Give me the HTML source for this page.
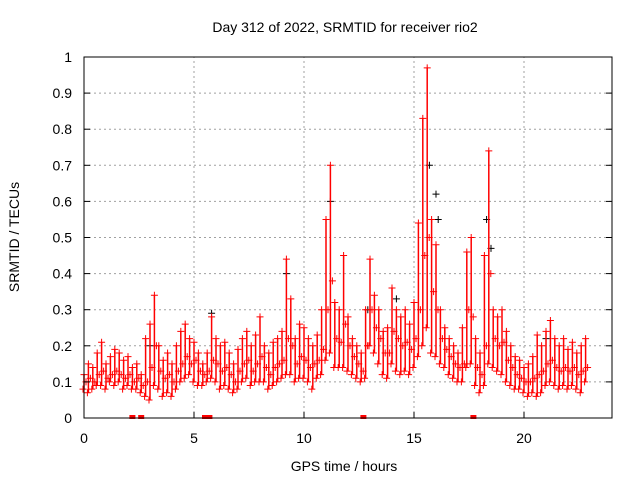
<!DOCTYPE html>
<html><head><meta charset="utf-8"><style>
body{margin:0;background:#fff;font-family:"Liberation Sans",sans-serif;}
svg text{font-family:"Liberation Sans",sans-serif;fill:#000;}
</style></head><body>
<svg id="chart" width="640" height="480" viewBox="0 0 640 480">
<rect width="640" height="480" fill="#fff"/>
<g id="grid"></g><g id="marks"></g><g id="axes"></g>
<text x="345" y="32" font-size="14" text-anchor="middle">Day 312 of 2022, SRMTID for receiver rio2</text>
<text x="344" y="471" font-size="14" text-anchor="middle">GPS time / hours</text>
<text transform="translate(19,237) rotate(-90)" font-size="14" text-anchor="middle">SRMTID / TECUs</text>
</svg>
<script>
const xTicks=[0,5,10,15,20];
const yTicks=[0,0.1,0.2,0.3,0.4,0.5,0.6,0.7,0.8,0.9,1];
const yTickLabels=["0","0.1","0.2","0.3","0.4","0.5","0.6","0.7","0.8","0.9","1"];
const tStart=0, tStep=0.2;
const redHigh=[.12,.15,.14,.18,.21,.15,.17,.19,.18,.16,.17,.14,.15,.12,.22,.26,.34,.20,.16,.18,.15,.20,.24,.26,.22,.21,.18,.15,.18,.28,.22,.20,.21,.18,.15,.19,.22,.24,.20,.23,.28,.20,.18,.21,.22,.24,.44,.33,.22,.26,.25,.22,.20,.23,.30,.55,.70,.32,.30,.45,.28,.22,.20,.18,.30,.44,.34,.30,.24,.25,.36,.30,.28,.30,.26,.32,.54,.83,.97,.55,.48,.30,.25,.22,.20,.18,.25,.46,.50,.22,.18,.45,.74,.30,.28,.30,.24,.20,.17,.16,.14,.15,.17,.23,.20,.24,.27,.22,.20,.22,.19,.21,.18,.20,.22];
const redMid=[.10,.11,.10,.12,.13,.11,.12,.13,.12,.11,.12,.10,.11,.09,.10,.14,.20,.13,.11,.12,.10,.13,.15,.17,.15,.16,.13,.12,.13,.16,.15,.13,.14,.12,.10,.13,.15,.16,.13,.15,.17,.14,.12,.14,.15,.16,.22,.20,.15,.17,.16,.14,.15,.16,.19,.30,.38,.22,.21,.26,.20,.17,.15,.13,.20,.30,.25,.22,.18,.18,.24,.22,.20,.21,.19,.22,.30,.45,.50,.35,.30,.22,.19,.17,.15,.14,.15,.30,.28,.14,.12,.20,.40,.22,.20,.21,.16,.14,.12,.11,.10,.10,.11,.12,.13,.15,.16,.14,.13,.14,.13,.14,.12,.13,.14];
const redLow=[.08,.07,.08,.09,.09,.08,.10,.09,.10,.08,.09,.08,.08,.07,.06,.05,.09,.08,.06,.07,.06,.08,.10,.11,.12,.10,.09,.09,.10,.11,.10,.08,.09,.08,.07,.08,.10,.11,.09,.10,.10,.10,.08,.09,.10,.11,.12,.12,.10,.11,.11,.10,.08,.11,.12,.16,.18,.14,.14,.14,.13,.12,.11,.10,.11,.20,.18,.15,.12,.11,.15,.13,.12,.13,.12,.14,.17,.20,.25,.18,.17,.15,.14,.12,.11,.10,.10,.14,.15,.09,.07,.09,.15,.14,.13,.12,.10,.09,.08,.08,.07,.06,.07,.06,.07,.09,.10,.09,.08,.09,.08,.09,.08,.07,.10];
const zeroTimes=[2.2,2.6,5.5,5.7,12.7,17.7];
const blackTimes=[3.0,5.8,9.2,11.2,12.9,14.2,15.7,16.0,16.1,18.3,18.5,21.0];
const blackValues=[.20,.29,.40,.60,.30,.33,.70,.62,.55,.55,.47,.22];
const X0=84,X1=612,Y0=418,Y1=57,TMAX=24;
const xs=t=>X0+(t/TMAX)*(X1-X0);
const ys=v=>Y0-v*(Y0-Y1);
const NS="http://www.w3.org/2000/svg";
const grid=document.getElementById('grid'),marks=document.getElementById('marks'),axes=document.getElementById('axes');
function mk(tag,attrs,parent){const e=document.createElementNS(NS,tag);for(const k in attrs)e.setAttribute(k,attrs[k]);parent.appendChild(e);return e;}
xTicks.forEach(t=>{
 if(t>0){const g=mk('line',{x1:xs(t),x2:xs(t),y1:Y0,y2:Y1,stroke:'#a0a0a0','stroke-dasharray':'2,3'},grid);
 
 }
 const tk=mk('line',{x1:xs(t),x2:xs(t),y1:Y0,y2:Y0-6,stroke:'#000'},axes);
 
 
 const lb=mk('text',{x:xs(t),y:443,'font-size':14,'text-anchor':'middle'},axes);lb.textContent=t;
 
 
});
yTicks.forEach((v,i)=>{
 if(v>0&&v<1){const g=mk('line',{x1:X0,x2:X1,y1:ys(v),y2:ys(v),stroke:'#a0a0a0','stroke-dasharray':'2,3'},grid);
 
 }
 const tk=mk('line',{x1:X0,x2:X0+6,y1:ys(v),y2:ys(v),stroke:'#000'},axes);
 
 
 const tk2=mk('line',{x1:X1,x2:X1-6,y1:ys(v),y2:ys(v),stroke:'#000'},axes);
 
 
 const lb=mk('text',{x:72,y:ys(v)+5,'font-size':14,'text-anchor':'end'},axes);lb.textContent=yTickLabels[i];
 
 
});
const frame=mk('rect',{x:X0,y:Y1,width:X1-X0,height:Y0-Y1,fill:'none',stroke:'#000'},axes);


function plus(x,y,color,name){
 const p=mk('path',{d:`M${x-3.5},${y}h7M${x},${y-3.5}v7`,stroke:color,'stroke-width':1,fill:'none'},marks);
 
 
}
blackTimes.forEach((t,i)=>plus(xs(t),ys(blackValues[i]),'#000','black-point'));
redHigh.forEach((v,i)=>{
 const t=tStart+i*tStep,x=xs(t);
 const r=mk('line',{x1:x,x2:x,y1:ys(v),y2:ys(redLow[i]),stroke:'#f00','stroke-width':1.5},marks);
 
 
 plus(x,ys(v),'#f00','red-point-high');
 plus(x+2,ys(redMid[i]),'#f00','red-point-mid');
 plus(x-1,ys(redLow[i]),'#f00','red-point-low');
});
zeroTimes.forEach(t=>{
 const r=mk('rect',{x:xs(t)-3,y:Y0-3,width:6,height:4,fill:'#f00'},marks);
 
 
});
</script>
</body></html>
